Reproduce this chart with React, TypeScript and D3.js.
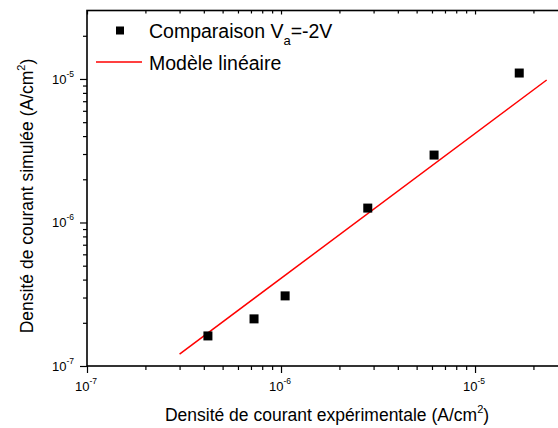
import React, { useEffect, useRef } from "react";
import * as d3 from "d3";

// Données (A/cm²)
const expX = [4.2e-7, 7.26e-7, 1.05e-6, 2.8e-6, 6.15e-6, 1.69e-5];
const simY = [1.62e-7, 2.13e-7, 3.08e-7, 1.26e-6, 2.95e-6, 1.1e-5];
// Modèle linéaire : extrémités de la droite
const fitX = [3.0e-7, 2.34e-5];
const fitY = [1.21e-7, 9.84e-6];
// Graduations
const majorTicks = [1e-7, 1e-6, 1e-5];
const tickExps = ["-7", "-6", "-5"];
const xTitle = "Densité de courant expérimentale (A/cm";
const yTitle = "Densité de courant simulée (A/cm";

const W = 558;
const H = 428;
const FONT = "Arial, 'Liberation Sans', sans-serif";

const App: React.FC = () => {
  const svgRef = useRef<SVGSVGElement>(null);

  useEffect(() => {
    if (!svgRef.current) return;
    const svg = d3.select(svgRef.current);
    svg.selectAll("*").remove();

    const left = 87;
    const bottom = 366;

    // échelles log, même domaine sur les deux axes
    const x = d3.scaleLog().domain([1e-7, 3e-5]).range([left, 567.6]);
    const y = d3.scaleLog().domain([1e-7, 3e-5]).range([bottom, 10.5]);
    const [x0, x1] = x.range();
    const [y0, y1] = y.range();

    // graduations secondaires 2..9 dans chaque décade
    const minorTicks: number[] = [];
    majorTicks.forEach((m) => {
      for (let k = 2; k <= 9; k++) {
        const v = m * k;
        if (v < 3e-5) minorTicks.push(v);
      }
    });

    const axisStyle = (g: d3.Selection<SVGGElement, unknown, null, undefined>) => {
      g.select(".domain").remove();
      g.selectAll("line").attr("stroke", "#000").attr("stroke-width", 1.2);
    };

    // axe du bas
    svg.append("g")
      .attr("transform", `translate(0,${bottom})`)
      .call(d3.axisBottom(x).tickValues(minorTicks).tickSize(4).tickFormat(() => ""))
      .call(axisStyle);
    svg.append("g")
      .attr("transform", `translate(0,${bottom})`)
      .call(d3.axisBottom(x).tickValues(majorTicks).tickSize(7).tickFormat(() => ""))
      .call(axisStyle);

    // axe du haut (graduations intérieures)
    svg.append("g")
      .attr("transform", `translate(0,${y1})`)
      .call(d3.axisTop(x).tickValues(minorTicks).tickSize(-3).tickFormat(() => ""))
      .call(axisStyle);
    svg.append("g")
      .attr("transform", `translate(0,${y1})`)
      .call(d3.axisTop(x).tickValues(majorTicks).tickSize(-4).tickFormat(() => ""))
      .call(axisStyle);

    // axe de gauche
    svg.append("g")
      .attr("transform", `translate(${left},0)`)
      .call(d3.axisLeft(y).tickValues(minorTicks).tickSize(4).tickFormat(() => ""))
      .call(axisStyle);
    svg.append("g")
      .attr("transform", `translate(${left},0)`)
      .call(d3.axisLeft(y).tickValues(majorTicks).tickSize(7).tickFormat(() => ""))
      .call(axisStyle);

    // axe de droite
    svg.append("g")
      .attr("transform", `translate(${x1},0)`)
      .call(d3.axisRight(y).tickValues(minorTicks).tickSize(-3).tickFormat(() => ""))
      .call(axisStyle);

    // cadre
    svg.append("rect")
      .attr("x", x0)
      .attr("y", y1)
      .attr("width", x1 - x0)
      .attr("height", y0 - y1)
      .attr("fill", "none")
      .attr("stroke", "#000")
      .attr("stroke-width", 1.6);

    // étiquettes des graduations
    majorTicks.forEach((v, i) => {
      const tx = svg.append("text")
        .attr("x", x(v) - 12)
        .attr("y", bottom + 25)
        .style("font-family", FONT)
        .style("font-size", "13px")
        .style("fill", "#000");
      tx.append("tspan").text("10");
      tx.append("tspan").attr("dy", -7).style("font-size", "8.5px").text(tickExps[i]);

      const ty = svg.append("text")
        .attr("x", left - 35)
        .attr("y", y(v) + 5)
        .style("font-family", FONT)
        .style("font-size", "13px")
        .style("fill", "#000");
      ty.append("tspan").text("10");
      ty.append("tspan").attr("dy", -7).style("font-size", "8.5px").text(tickExps[i]);
    });

    // titres des axes
    const xt = svg.append("text")
      .attr("x", 327)
      .attr("y", 421)
      .attr("text-anchor", "middle")
      .style("font-family", FONT)
      .style("font-size", "17.5px")
      .style("fill", "#000");
    xt.append("tspan").text(xTitle);
    xt.append("tspan").attr("dy", -8).style("font-size", "11px").text("2");
    xt.append("tspan").attr("dy", 8).text(")");

    const yt = svg.append("text")
      .attr("transform", `translate(33,196) rotate(-90)`)
      .attr("text-anchor", "middle")
      .style("font-family", FONT)
      .style("font-size", "17.5px")
      .style("fill", "#000");
    yt.append("tspan").text(yTitle);
    yt.append("tspan").attr("dy", -8).style("font-size", "11px").text("2");
    yt.append("tspan").attr("dy", 8).text(")");

    // droite du modèle
    const line = d3.line<number>()
      .x((d) => x(d))
      .y((_, i) => y(fitY[i]));
    svg.append("path")
      .datum(fitX)
      .attr("d", line)
      .attr("fill", "none")
      .attr("stroke", "#ff0000")
      .attr("stroke-width", 1.5);

    // points
    const sz = 9;
    svg.selectAll(".pt")
      .data(expX)
      .enter()
      .append("rect")
      .attr("class", "pt")
      .attr("x", (d) => x(d) - sz / 2)
      .attr("y", (_, i) => y(simY[i]) - sz / 2)
      .attr("width", sz)
      .attr("height", sz)
      .attr("fill", "#000");

    // légende
    const leg = svg.append("g");
    leg.append("rect")
      .attr("x", 116)
      .attr("y", 26.5)
      .attr("width", 8)
      .attr("height", 8)
      .attr("fill", "#000");
    const l1 = leg.append("text")
      .attr("x", 149)
      .attr("y", 37.5)
      .style("font-family", FONT)
      .style("font-size", "19.5px")
      .style("fill", "#000");
    l1.append("tspan").text("Comparaison V");
    l1.append("tspan").attr("dy", 7).style("font-size", "13px").text("a");
    l1.append("tspan").attr("dy", -7).text("=-2V");

    leg.append("line")
      .attr("x1", 96)
      .attr("x2", 142)
      .attr("y1", 62)
      .attr("y2", 62)
      .attr("stroke", "#ff0000")
      .attr("stroke-width", 1.5);
    leg.append("text")
      .attr("x", 149)
      .attr("y", 70)
      .style("font-family", FONT)
      .style("font-size", "19.5px")
      .style("fill", "#000")
      .text("Modèle linéaire");
  }, []);

  return (
    <svg
      ref={svgRef}
      width={W}
      height={H}
      style={{ position: "absolute", left: 0, top: 0, background: "#fff" }}
    />
  );
};

export default App;
